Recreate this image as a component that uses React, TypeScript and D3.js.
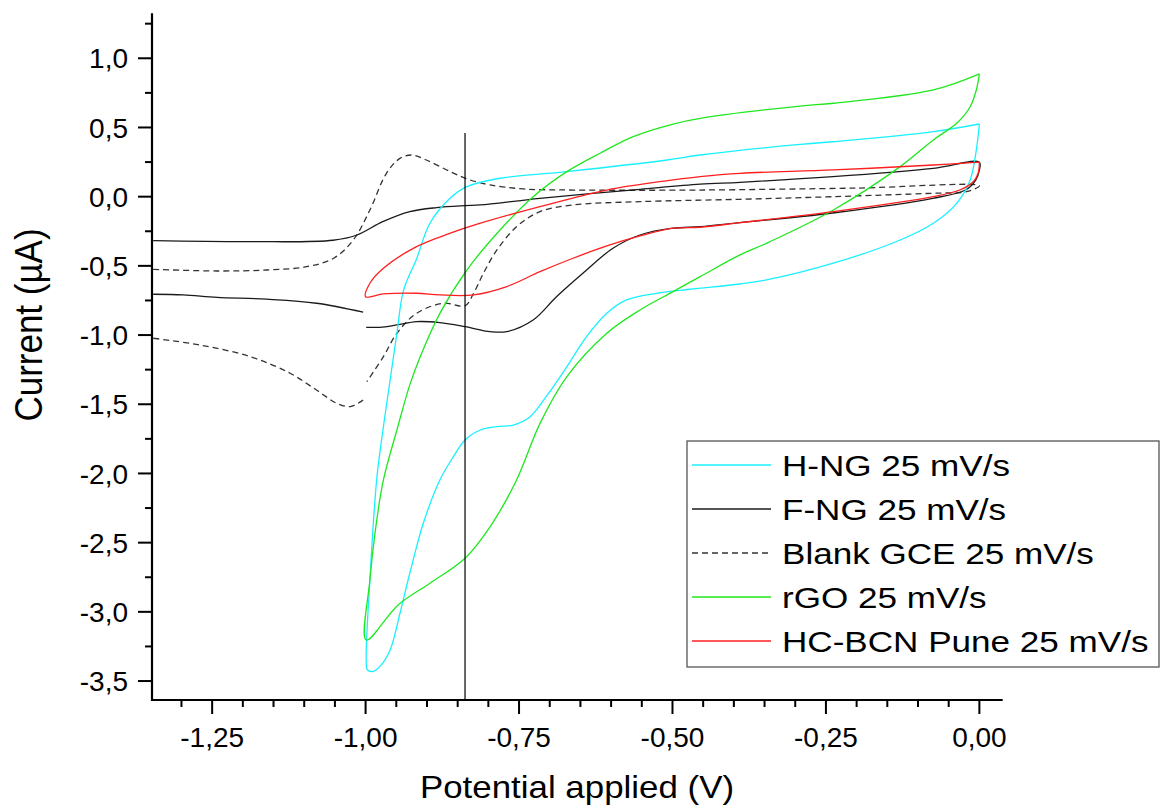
import React from "react";
import * as d3 from "d3";

type P = [number, number];

// ---- Data (potential V, current µA) ----
const H_NG: P[] = [
  [0, 0.525], [-0.075, 0.47], [-0.238, 0.397], [-0.292, 0.378], [-0.455, 0.301], [-0.509, 0.265],
  [-0.672, 0.181], [-0.781, 0.133], [-0.835, 0.072], [-0.862, -0.01], [-0.895, -0.19], [-0.917, -0.45],
  [-0.938, -0.674], [-0.949, -0.987], [-0.96, -1.324], [-0.974, -1.758], [-0.982, -2.047], [-0.993, -2.77],
  [-0.999, -3.35], [-0.997, -3.42], [-0.988, -3.43], [-0.977, -3.396], [-0.96, -3.275], [-0.944, -3.01],
  [-0.928, -2.721], [-0.906, -2.36], [-0.879, -2.047], [-0.857, -1.879], [-0.838, -1.758], [-0.813, -1.686],
  [-0.786, -1.662], [-0.759, -1.65], [-0.732, -1.59], [-0.705, -1.44], [-0.672, -1.228], [-0.64, -1.012],
  [-0.607, -0.843], [-0.575, -0.746], [-0.526, -0.698], [-0.472, -0.669], [-0.39, -0.631], [-0.347, -0.602],
  [-0.238, -0.481], [-0.129, -0.313], [-0.075, -0.192], [-0.037, -0.048], [-0.015, 0.121], [-0.005, 0.337],
  [0, 0.525],
];

const F_NG_LEFT: P[] = [
  [-1.346, -0.705], [-1.297, -0.71], [-1.242, -0.727], [-1.161, -0.741], [-1.08, -0.77], [-1.004, -0.835],
];
const F_NG_MAIN: P[] = [
  [-0.999, -0.944], [-0.977, -0.944], [-0.949, -0.927], [-0.917, -0.903], [-0.879, -0.91], [-0.838, -0.939],
  [-0.797, -0.975], [-0.77, -0.975], [-0.727, -0.891], [-0.689, -0.723], [-0.646, -0.553], [-0.597, -0.373],
  [-0.553, -0.277], [-0.499, -0.228], [-0.455, -0.217], [-0.39, -0.188], [-0.239, -0.118], [-0.076, -0.012],
  [-0.022, 0.05], [-0.006, 0.12], [0, 0.193], [0, 0.249], [-0.075, 0.205], [-0.239, 0.145], [-0.39, 0.104],
  [-0.455, 0.09], [-0.553, 0.053], [-0.716, -0.012], [-0.813, -0.06], [-0.838, -0.065], [-0.884, -0.079],
  [-0.928, -0.108], [-0.972, -0.181], [-1.014, -0.277], [-1.053, -0.315], [-1.188, -0.325], [-1.346, -0.318],
];

const BLANK_MAIN: P[] = [
  [-1.346, -0.525], [-1.242, -0.537], [-1.161, -0.53], [-1.096, -0.506], [-1.052, -0.445], [-1.02, -0.313],
  [-0.993, -0.096], [-0.966, 0.169], [-0.944, 0.277], [-0.925, 0.301], [-0.901, 0.265], [-0.862, 0.181],
  [-0.83, 0.121], [-0.797, 0.085], [-0.743, 0.056], [-0.662, 0.048], [-0.455, 0.048], [-0.2, 0.062],
  [0, 0.079], [-0.021, 0.036], [-0.075, 0.025], [-0.238, 0.0], [-0.39, -0.019], [-0.553, -0.036],
  [-0.662, -0.06], [-0.716, -0.108], [-0.754, -0.217], [-0.786, -0.385], [-0.808, -0.553], [-0.824, -0.698],
  [-0.838, -0.788], [-0.873, -0.77], [-0.917, -0.843], [-0.949, -0.987], [-0.971, -1.156], [-0.998, -1.337],
];
const BLANK_LEFT: P[] = [
  [-1.004, -1.469], [-1.025, -1.517], [-1.047, -1.493], [-1.08, -1.397], [-1.123, -1.276], [-1.188, -1.156],
  [-1.27, -1.072], [-1.346, -1.023],
];

const RGO: P[] = [
  [0, 0.887], [-0.075, 0.771], [-0.238, 0.675], [-0.292, 0.655], [-0.455, 0.566], [-0.499, 0.525],
  [-0.564, 0.434], [-0.618, 0.314], [-0.672, 0.181], [-0.727, 0.0], [-0.781, -0.241], [-0.835, -0.53],
  [-0.879, -0.843], [-0.911, -1.156], [-0.928, -1.36], [-0.949, -1.686], [-0.971, -2.047], [-0.984, -2.408],
  [-0.993, -2.77], [-0.999, -3.203], [-0.947, -2.95], [-0.895, -2.793], [-0.838, -2.613], [-0.797, -2.384],
  [-0.754, -2.047], [-0.716, -1.64], [-0.672, -1.3], [-0.607, -0.987], [-0.553, -0.819], [-0.499, -0.686],
  [-0.455, -0.578], [-0.39, -0.421], [-0.347, -0.337], [-0.238, -0.096], [-0.129, 0.217], [-0.075, 0.41],
  [-0.037, 0.53], [-0.015, 0.65], [-0.005, 0.771], [0, 0.887],
];

const HC_BCN: P[] = [
  [0, 0.249], [-0.075, 0.229], [-0.238, 0.193], [-0.39, 0.169], [-0.455, 0.145], [-0.499, 0.121],
  [-0.607, 0.048], [-0.716, -0.072], [-0.813, -0.192], [-0.862, -0.264], [-0.917, -0.361], [-0.971, -0.517],
  [-0.993, -0.626], [-1.0, -0.723], [-0.971, -0.703], [-0.917, -0.698], [-0.879, -0.71], [-0.824, -0.71],
  [-0.77, -0.65], [-0.716, -0.542], [-0.662, -0.445], [-0.607, -0.356], [-0.553, -0.284], [-0.499, -0.228],
  [-0.455, -0.221], [-0.39, -0.188], [-0.238, -0.108], [-0.075, 0.0], [-0.032, 0.048], [-0.01, 0.108],
  [-0.002, 0.169], [0, 0.249],
];

const VLINE_X = -0.838;
const VLINE_TOP = 0.46;

const X_TICKS = [-1.25, -1.0, -0.75, -0.5, -0.25, 0];
const Y_TICKS = [-3.5, -3.0, -2.5, -2.0, -1.5, -1.0, -0.5, 0, 0.5, 1.0];
const Y_MINOR = [-3.25, -2.75, -2.25, -1.75, -1.25, -0.75, -0.25, 0.25, 0.75, 1.25];
const X_MINOR = [-1.3, -1.2, -1.15, -1.1, -1.05, -0.95, -0.9, -0.85, -0.8, -0.7, -0.65, -0.6, -0.55, -0.45, -0.4, -0.35, -0.3, -0.2, -0.15, -0.1, -0.05];

const LEGEND_LABELS = [
  "H-NG 25 mV/s",
  "F-NG 25 mV/s",
  "Blank GCE 25 mV/s",
  "rGO 25 mV/s",
  "HC-BCN Pune 25 mV/s",
];
const COLORS = ["#19f0ff", "#1a1a1a", "#333333", "#1fe81f", "#ff1f1f"];

const FONT = "'Liberation Sans', Arial, sans-serif";

export default function App() {
  const W = 1165, H = 806;
  const x = d3.scaleLinear().domain([-1.348, 0.038]).range([152, 1002.7]);
  const y = d3.scaleLinear().domain([-3.637, 1.325]).range([700, 13.3]);
  const line = d3
    .line<P>()
    .x((d) => x(d[0]))
    .y((d) => y(d[1]))
    .curve(d3.curveCatmullRom.alpha(0.5));

  const fmt = (v: number, n: number) => v.toFixed(n).replace(".", ",").replace("−", "-");

  const series: { data: P[]; color: string; dash?: string }[] = [
    { data: BLANK_MAIN, color: COLORS[2], dash: "6,4" },
    { data: BLANK_LEFT, color: COLORS[2], dash: "6,4" },
    { data: F_NG_LEFT, color: COLORS[1] },
    { data: F_NG_MAIN, color: COLORS[1] },
    { data: H_NG, color: COLORS[0] },
    { data: RGO, color: COLORS[3] },
    { data: HC_BCN, color: COLORS[4] },
  ];

  const x0 = x.range()[0];
  const y0 = y.range()[0];

  return (
    <svg width={W} height={H} style={{ position: "absolute", left: 0, top: 0, background: "#fff" }} fontFamily={FONT}>
      <rect x={0} y={0} width={W} height={H} fill="#fff" />
      {series.map((s, i) => (
        <path key={i} d={line(s.data) || ""} fill="none" stroke={s.color} strokeWidth={1.3} strokeDasharray={s.dash} />
      ))}
      <line x1={x(VLINE_X)} x2={x(VLINE_X)} y1={y(VLINE_TOP)} y2={y0} stroke="#000" strokeWidth={1.2} />

      {/* axes */}
      <line x1={x0} x2={x0} y1={y.range()[1]} y2={y0 + 1} stroke="#000" strokeWidth={2.2} />
      <line x1={x0 - 1} x2={x.range()[1]} y1={y0} y2={y0} stroke="#000" strokeWidth={2.2} />
      {Y_TICKS.map((v) => (
        <g key={"yt" + v}>
          <line x1={x0 - 14} x2={x0} y1={y(v)} y2={y(v)} stroke="#000" strokeWidth={2} />
          <text x={x0 - 24} y={y(v)} dy="0.36em" textAnchor="end" fontSize={28} fill="#000">
            {fmt(v, 1)}
          </text>
        </g>
      ))}
      {Y_MINOR.map((v) => (
        <line key={"ym" + v} x1={x0 - 7} x2={x0} y1={y(v)} y2={y(v)} stroke="#000" strokeWidth={2} />
      ))}
      {X_TICKS.map((v) => (
        <g key={"xt" + v}>
          <line x1={x(v)} x2={x(v)} y1={y0} y2={y0 + 14} stroke="#000" strokeWidth={2} />
          <text x={x(v)} y={y0 + 47} textAnchor="middle" fontSize={28} fill="#000">
            {fmt(v, 2)}
          </text>
        </g>
      ))}
      {X_MINOR.map((v) => (
        <line key={"xm" + v} x1={x(v)} x2={x(v)} y1={y0} y2={y0 + 7} stroke="#000" strokeWidth={2} />
      ))}

      {/* axis titles */}
      <text transform={`translate(577,798) scale(1.09,1)`} textAnchor="middle" fontSize={32} fill="#000">
        Potential applied (V)
      </text>
      <text transform={`translate(42,325) scale(1.12,1) rotate(-90)`} textAnchor="middle" fontSize={35} fill="#000">
        Current (µA)
      </text>

      {/* legend */}
      <rect x={687} y={441} width={472} height={226} fill="#fff" stroke="#555" strokeWidth={1.3} />
      {LEGEND_LABELS.map((lab, i) => {
        const ly = 465 + i * 44;
        return (
          <g key={lab}>
            <line x1={692} x2={771} y1={ly} y2={ly} stroke={COLORS[i]} strokeWidth={1.3} strokeDasharray={i === 2 ? "6,4" : undefined} />
            <text transform={`translate(782,${ly + 11}) scale(1.17,1)`} fontSize={30} fill="#000">
              {lab}
            </text>
          </g>
        );
      })}
    </svg>
  );
}
